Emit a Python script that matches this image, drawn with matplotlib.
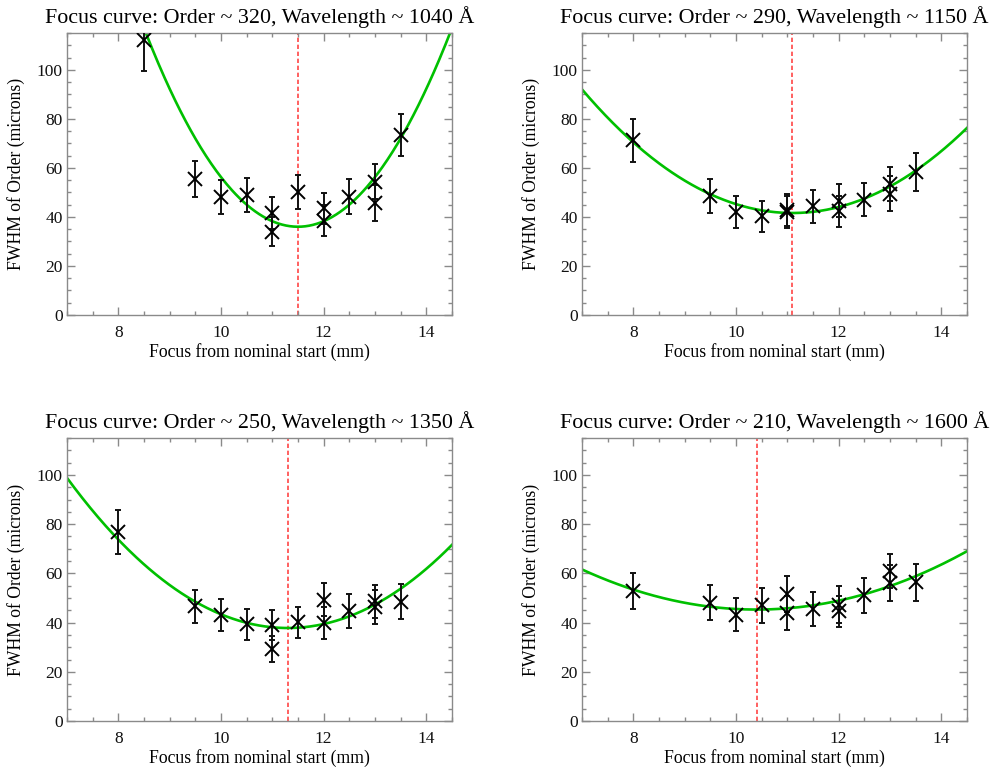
#!/usr/bin/env python3
"""Focus curves (FWHM vs focus position) for four echelle orders."""

from __future__ import annotations

import matplotlib as mpl

mpl.use("Agg")
import matplotlib.pyplot as plt
import numpy as np
from matplotlib.ticker import MultipleLocator


OUT_PNG = "out.png"

ORDERS = [320, 290, 250, 210]
WAVELENGTHS = [1040, 1150, 1350, 1600]

# focus positions (mm from nominal start), same for every order apart from the first point
FOCUS_320 = [8.5, 9.5, 10.0, 10.5, 11.0, 11.0, 11.5, 12.0, 12.0, 12.5, 13.0, 13.0, 13.5]
FOCUS_OTHER = [8.0, 9.5, 10.0, 10.5, 11.0, 11.0, 11.5, 12.0, 12.0, 12.5, 13.0, 13.0, 13.5]

FWHM_320 = [112.0, 55.5, 48.0, 49.0, 41.5, 34.0, 50.3, 43.5, 38.5, 48.3, 54.4, 45.8, 73.3]
ERR_320 = [12.5, 7.5, 7.0, 7.0, 6.5, 6.0, 7.0, 6.4, 6.3, 7.0, 7.2, 7.3, 8.5]

FWHM_290 = [71.2, 48.4, 42.0, 40.2, 43.0, 42.0, 44.3, 46.7, 42.3, 47.1, 53.5, 49.5, 58.3]
ERR_290 = [8.6, 7.0, 6.5, 6.3, 6.5, 6.5, 6.6, 6.6, 6.4, 6.9, 7.0, 7.0, 7.8]

FWHM_250 = [76.8, 46.6, 42.9, 39.4, 39.1, 29.3, 40.1, 49.3, 39.8, 44.8, 48.6, 46.3, 48.4]
ERR_250 = [8.9, 6.8, 6.5, 6.3, 6.1, 5.4, 6.4, 6.8, 6.5, 6.8, 6.8, 6.8, 7.1]

FWHM_210 = [52.7, 48.0, 43.2, 47.0, 51.8, 43.9, 45.5, 47.2, 44.6, 51.1, 61.0, 56.0, 56.4]
ERR_210 = [7.3, 7.1, 6.6, 7.0, 7.3, 6.8, 6.9, 7.5, 6.4, 7.0, 7.0, 7.4, 7.6]

# parabolic fit parameters
BEST_FOCUS = [11.5, 11.1, 11.3, 10.4]
MIN_FWHM = [36.0, 41.6, 37.8, 45.3]
CURVATURE = [9.0, 3.0, 3.3, 1.41]

XLIM = (7.0, 14.5)
YLIM = (0.0, 115.0)

AXES_RECTS = [
    [0.0674, 0.5909, 0.3873, 0.3662],
    [0.5855, 0.5909, 0.3873, 0.3662],
    [0.0674, 0.0636, 0.3873, 0.3675],
    [0.5855, 0.0636, 0.3873, 0.3675],
]


def configure_matplotlib() -> None:
    mpl.rcParams.update(
        {
            "font.family": ["Liberation Serif", "DejaVu Serif"],
            "font.size": 12,
            "axes.linewidth": 1.0,
            "axes.edgecolor": "#8a8a8a",
            "xtick.color": "#8a8a8a",
            "ytick.color": "#8a8a8a",
            "xtick.labelcolor": "#111111",
            "ytick.labelcolor": "#111111",
        }
    )


def draw_panel(ax, focus, fwhm, err, order, wave, x0, fmin, k) -> None:
    xs = np.linspace(XLIM[0], XLIM[1], 300)
    ax.plot(xs, fmin + k * (xs - x0) ** 2, color="#00c000", linewidth=1.9, zorder=2)
    ax.axvline(x0, color="#ff4545", linewidth=1.2, dashes=(2.6, 1.6), zorder=1)
    ax.errorbar(
        focus,
        fwhm,
        yerr=err,
        fmt="x",
        color="black",
        ecolor="#111111",
        markersize=9.5,
        markeredgewidth=1.4,
        elinewidth=1.4,
        capsize=2.4,
        capthick=1.2,
        zorder=3,
    )
    ax.set_xlim(*XLIM)
    ax.set_ylim(*YLIM)
    ax.xaxis.set_major_locator(MultipleLocator(2))
    ax.xaxis.set_minor_locator(MultipleLocator(0.5))
    ax.yaxis.set_major_locator(MultipleLocator(20))
    ax.yaxis.set_minor_locator(MultipleLocator(5))
    ax.tick_params(which="both", direction="in", top=True, right=True, width=1.0)
    ax.tick_params(which="major", length=5.5)
    ax.tick_params(which="minor", length=3)
    ax.tick_params(axis="x", which="major", pad=7.5, labelsize=12.5)
    ax.tick_params(axis="y", which="major", pad=3, labelsize=12.5)
    ax.set_title(f"Focus curve: Order ~ {order}, Wavelength ~ {wave} Å", fontsize=15.8, pad=7)
    ax.set_xlabel("Focus from nominal start (mm)", fontsize=12.7)
    ax.set_ylabel("FWHM of Order (microns)", fontsize=12.7)
    ax.xaxis.set_label_coords(0.5, -0.1)
    ax.yaxis.set_label_coords(-0.11, 0.5)


def make_figure() -> None:
    configure_matplotlib()
    fig = plt.figure(figsize=(9.94, 7.70), dpi=100)
    series = [
        (FOCUS_320, FWHM_320, ERR_320),
        (FOCUS_OTHER, FWHM_290, ERR_290),
        (FOCUS_OTHER, FWHM_250, ERR_250),
        (FOCUS_OTHER, FWHM_210, ERR_210),
    ]
    for i, (focus, fwhm, err) in enumerate(series):
        ax = fig.add_axes(AXES_RECTS[i])
        draw_panel(
            ax, focus, fwhm, err, ORDERS[i], WAVELENGTHS[i],
            BEST_FOCUS[i], MIN_FWHM[i], CURVATURE[i],
        )
    fig.savefig(OUT_PNG, dpi=100)
    plt.close(fig)


def main() -> int:
    make_figure()
    return 0


if __name__ == "__main__":
    raise SystemExit(main())
